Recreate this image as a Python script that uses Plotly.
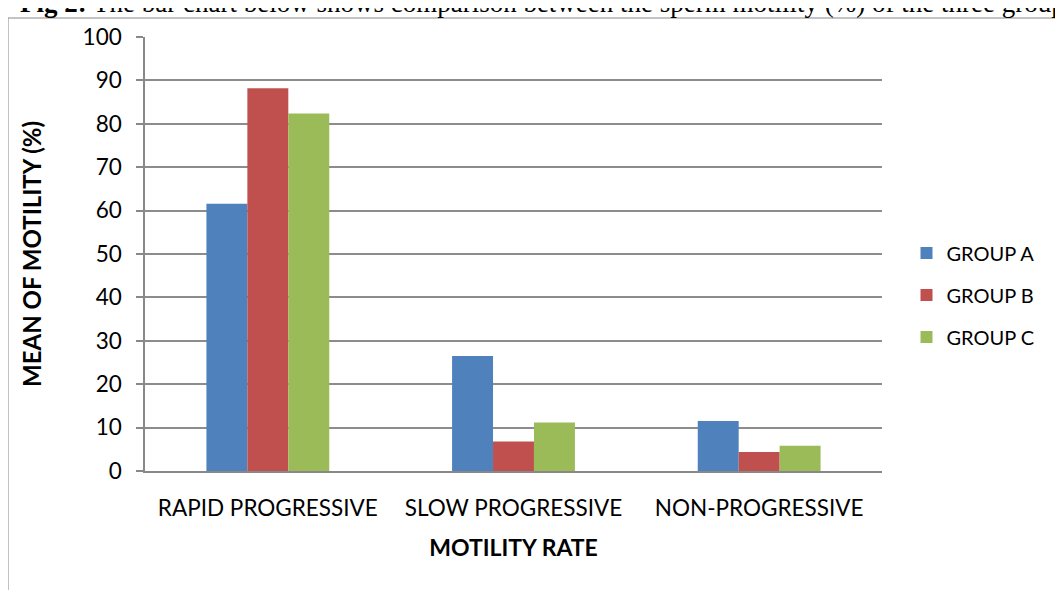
import plotly.graph_objects as go

categories = ["RAPID PROGRESSIVE", "SLOW PROGRESSIVE", "NON-PROGRESSIVE"]
groups = ["GROUP A", "GROUP B", "GROUP C"]
group_a = [61.6, 26.5, 11.5]
group_b = [88.2, 6.8, 4.4]
group_c = [82.4, 11.2, 5.8]
colors = ["#4F81BD", "#C0504D", "#9BBB59"]
y_ticks = [0, 10, 20, 30, 40, 50, 60, 70, 80, 90, 100]

FONT = "Lato, 'Open Sans', sans-serif"

fig = go.Figure()
for i, (name, vals) in enumerate(zip(groups, [group_a, group_b, group_c])):
    fig.add_trace(go.Bar(
        x=categories, y=vals, name=name,
        marker=dict(color=colors[i], line=dict(width=0)),
        legendgroup=name,
    ))

# page body has an 8px margin; margins compensate so plot sits at 145..882 x 37..471
L, T = 137, 29
PW, PH = 737, 434

fig.update_layout(
    width=1063, height=590,
    paper_bgcolor="white", plot_bgcolor="white",
    margin=dict(l=L, r=1063 - L - PW, t=T, b=590 - T - PH),
    barmode="group", bargap=0.5, bargroupgap=0,
    font=dict(family=FONT, size=22, color="black"),
    showlegend=True,
    legend=dict(x=(906.5 - 145) / PW, y=(471 - 295) / PH, xanchor="left", yanchor="middle",
                font=dict(family=FONT, size=20, color="black"),
                tracegroupgap=13, itemwidth=30),
    xaxis=dict(
        title=dict(text="<b>MOTILITY RATE</b>", font=dict(family=FONT, size=23, color="black"), standoff=20),
        showline=True, linecolor="#888888", linewidth=1.5,
        ticks="", tickfont=dict(family=FONT, size=22.5, color="black"),
        ticklabelstandoff=16,
        showgrid=False, automargin=False,
    ),
    yaxis=dict(
        title=dict(text="<b>MEAN OF MOTILITY (%)</b>", font=dict(family=FONT, size=24, color="black"), standoff=34),
        range=[0, 100], tickvals=y_ticks,
        showline=True, linecolor="#888888", linewidth=1.5,
        ticks="outside", ticklen=7, tickcolor="#888888", tickwidth=1.5,
        ticklabelstandoff=10,
        showgrid=True, gridcolor="#8c8c8c", gridwidth=1.5,
        tickfont=dict(family=FONT, size=22.5, color="black"),
        zeroline=False, automargin=False,
    ),
)

# frame around chart
fig.add_shape(type="rect", xref="paper", yref="paper",
              x0=-L / PW, x1=1100 / PW, y0=-200 / PH, y1=(PH + T - 10) / PH,
              line=dict(color="#888888", width=1), fillcolor="rgba(0,0,0,0)", layer="below")

# caption partially cut off at top (as in the reference)
fig.add_annotation(
    xref="paper", yref="paper", x=(10 - L) / PW, y=(PH + T + 5) / PH,
    xanchor="left", yanchor="middle", showarrow=False,
    text="<b>Fig 2:</b> The bar chart below shows comparison between the sperm motility (%) of the three groups",
    font=dict(family="'Liberation Serif', serif", size=27, color="black"),
)

fig.write_html("out.html")
